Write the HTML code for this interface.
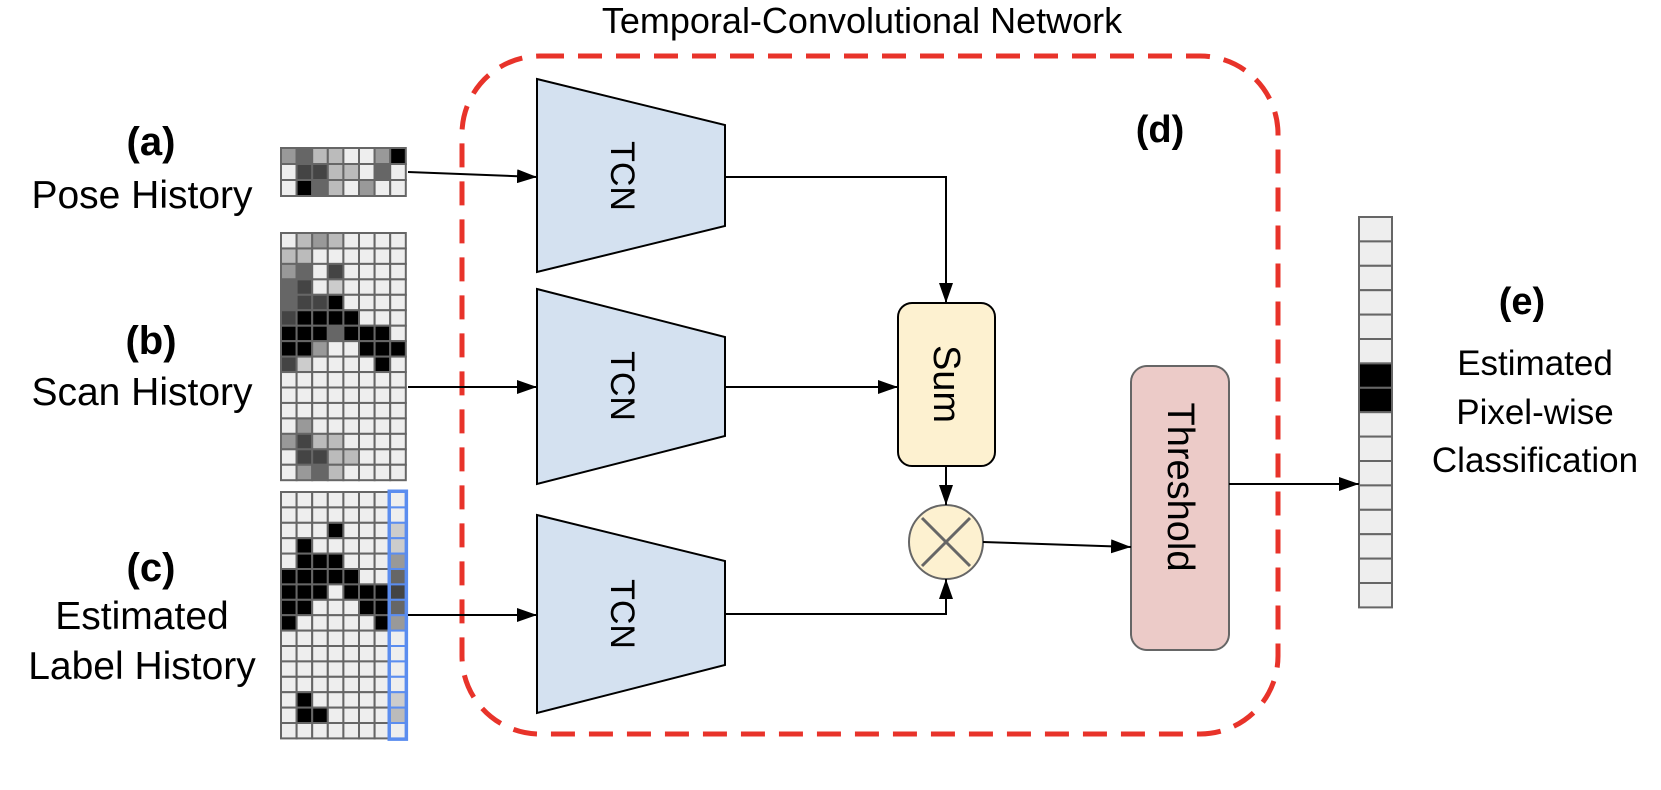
<!DOCTYPE html>
<html><head><meta charset="utf-8">
<style>
html,body{margin:0;padding:0;background:#fff;}
svg{display:block;font-family:"Liberation Sans",Arial,sans-serif;}
</style></head>
<body>
<svg id="s" width="1661" height="790" viewBox="0 0 1661 790" xmlns="http://www.w3.org/2000/svg">
<defs>
<marker id="ar2" markerWidth="20" markerHeight="14" refX="20" refY="7" orient="auto" markerUnits="userSpaceOnUse">
<path d="M0,0 L20,7 L0,14 z" fill="#000"/>
</marker>
</defs>
<g id="grids"></g>

<text x="862" y="33" font-size="36" text-anchor="middle">Temporal-Convolutional Network</text>
<rect x="462" y="56" width="816" height="678" rx="78" ry="78" fill="none" stroke="#e8332a" stroke-width="5" stroke-dasharray="24,14"/>

<g text-anchor="middle" font-size="39">
<text x="151" y="155" font-weight="bold" font-size="40">(a)</text>
<text x="142" y="208">Pose History</text>
<text x="151" y="354" font-weight="bold" font-size="40">(b)</text>
<text x="142" y="405">Scan History</text>
<text x="151" y="581" font-weight="bold" font-size="40">(c)</text>
<text x="142" y="629">Estimated</text>
<text x="142" y="679">Label History</text>
<text x="1160" y="142" font-weight="bold" font-size="38">(d)</text>
<text x="1522" y="314" font-weight="bold" font-size="38">(e)</text>
<text x="1535" y="375" font-size="35">Estimated</text>
<text x="1535" y="424" font-size="35">Pixel-wise</text>
<text x="1535" y="472" font-size="35">Classification</text>
</g>

<g fill="#d4e1f0" stroke="#000" stroke-width="2">
<polygon points="537,79 725,125 725,226 537,272"/>
<polygon points="537,289 725,337 725,436 537,484"/>
<polygon points="537,515 725,561 725,665 537,713"/>
</g>
<g font-size="34" text-anchor="middle">
<text transform="translate(622,176) rotate(90)" dominant-baseline="central">TCN</text>
<text transform="translate(622,386) rotate(90)" dominant-baseline="central">TCN</text>
<text transform="translate(622,614) rotate(90)" dominant-baseline="central">TCN</text>
</g>

<rect x="898" y="303" width="97" height="163" rx="14" fill="#fdf1d0" stroke="#000" stroke-width="2"/>
<text transform="translate(946,384) rotate(90)" font-size="38" text-anchor="middle" dominant-baseline="central">Sum</text>

<circle cx="946" cy="542" r="37" fill="#fdf1d0" stroke="#666" stroke-width="2"/>
<line x1="922" y1="518" x2="970" y2="566" stroke="#666" stroke-width="3"/>
<line x1="970" y1="518" x2="922" y2="566" stroke="#666" stroke-width="3"/>

<rect x="1131" y="366" width="98" height="284" rx="16" fill="#eccbc8" stroke="#666" stroke-width="2"/>
<text transform="translate(1180,487) rotate(90)" font-size="38" text-anchor="middle" dominant-baseline="central">Threshold</text>

<g stroke="#000" stroke-width="2" fill="none">
<line x1="408" y1="172" x2="537" y2="177" marker-end="url(#ar2)"/>
<line x1="408" y1="387" x2="537" y2="387" marker-end="url(#ar2)"/>
<line x1="408" y1="615" x2="537" y2="615" marker-end="url(#ar2)"/>
<polyline points="725,177 946,177 946,303" marker-end="url(#ar2)"/>
<line x1="725" y1="387" x2="898" y2="387" marker-end="url(#ar2)"/>
<line x1="946" y1="466" x2="946" y2="505" marker-end="url(#ar2)"/>
<polyline points="725,614 946,614 946,579" marker-end="url(#ar2)"/>
<line x1="983" y1="542" x2="1131" y2="547" marker-end="url(#ar2)"/>
<line x1="1229" y1="484" x2="1359" y2="484" marker-end="url(#ar2)"/>
</g>
</svg>
<script>
(function(){
var C={L:"#eeeeee",A:"#bbbbbb",X:"#cccccc",B:"#999999",C:"#666666",D:"#444444",K:"#000000"};
var g=document.getElementById("grids");
var ns="http://www.w3.org/2000/svg";
function grid(x0,y0,cw,ch,rows,stroke){
 rows.forEach(function(r,i){
  for(var j=0;j<r.length;j++){
   var e=document.createElementNS(ns,"rect");
   e.setAttribute("x",x0+j*cw);e.setAttribute("y",y0+i*ch);
   e.setAttribute("width",cw);e.setAttribute("height",ch);
   e.setAttribute("fill",C[r[j]]);e.setAttribute("stroke",stroke||"#666");
   e.setAttribute("stroke-width","2");g.appendChild(e);
  }
 });
}
grid(281,148,15.6,16,["BCAALLBK","LDDAALCL","LKCALBLL"]);
grid(281,233,15.6,15.45,[
"LABALLLL","AALLLLLL","BCLDLLLL","CDLXLLLL","CDDKLLLL","DKKKKLLL",
"KKKCKKKL","KKBLLKKK","DXLLLLKL","LLLLLLLL","LLLLLLLL","LLLLLLLL",
"LBLLLLLL","BDAALLLL","LDDAALLL","LBCALLLL"]);
var lab=["LLLLLLL","LLLLLLL","LLLKLLL","LKLLLLL","LKKKLLL","KKKKKLL","KKKLKKK","KKLLLKK",
"KLLLLLK","LLLLLLL","LLLLLLL","LLLLLLL","LLLLLLL","LKLLLLL","LKKLLLL","LLLLLLL"];
grid(281,492,15.6,15.4,lab);
var blue="LLXXBCDCBLLLLXAL".split("");
grid(390,492,15.6,15.4,blue,"#5b8def");
var e=document.createElementNS(ns,"rect");
e.setAttribute("x",389);e.setAttribute("y",491);e.setAttribute("width",17.6);e.setAttribute("height",248.4);
e.setAttribute("fill","none");e.setAttribute("stroke","#5b8def");e.setAttribute("stroke-width","3");g.appendChild(e);
var col=[];for(var i=0;i<16;i++)col.push(i==6||i==7?"K":"L");
grid(1359,217,33,24.4,col,"#666");
})();
</script>
</body></html>
